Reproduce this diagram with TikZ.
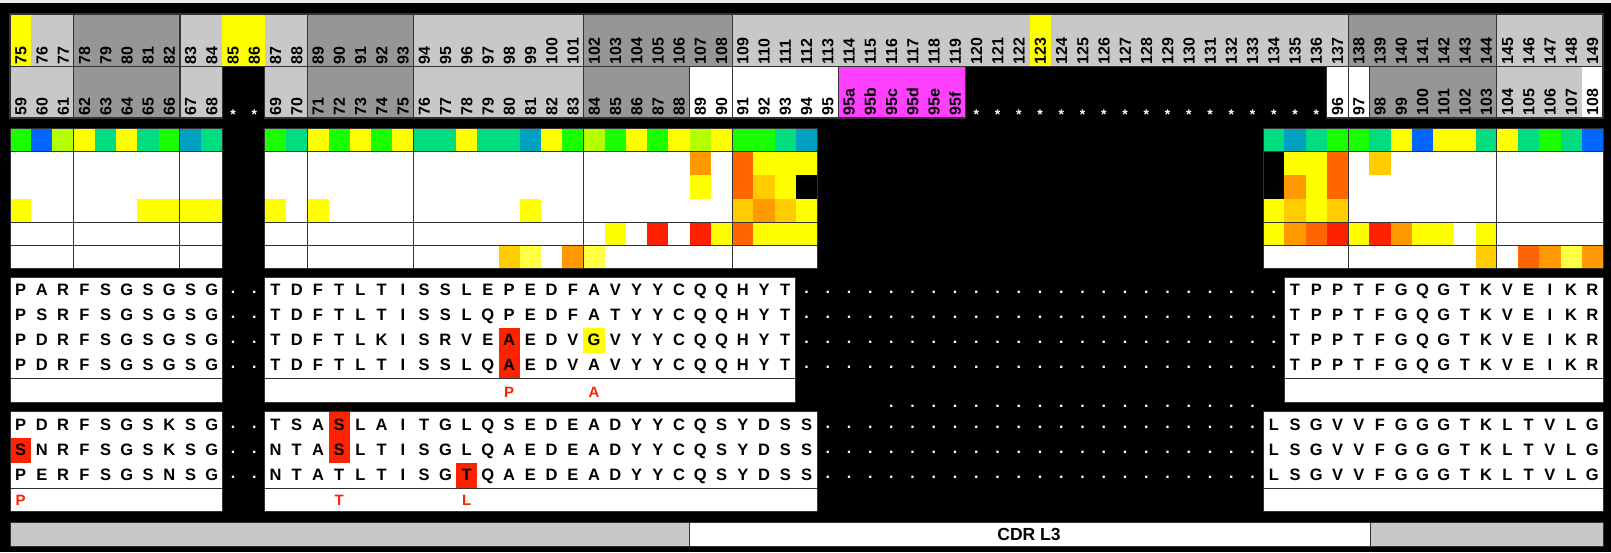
\documentclass[tikz,border=0pt]{standalone}
\usepackage{fontspec}
\setmainfont{Liberation Sans}
\definecolor{lg}{RGB}{200,200,200}
\definecolor{dg}{RGB}{150,150,150}
\definecolor{mag}{RGB}{255,64,255}
\definecolor{cG}{RGB}{26,255,0}
\definecolor{cT}{RGB}{0,221,128}
\definecolor{cB}{RGB}{0,102,255}
\definecolor{cC}{RGB}{0,160,192}
\definecolor{cL}{RGB}{179,255,0}
\definecolor{cY}{RGB}{255,255,0}
\definecolor{hR}{RGB}{255,34,0}
\definecolor{hO}{RGB}{255,102,0}
\definecolor{hN}{RGB}{255,153,0}
\definecolor{hA}{RGB}{255,204,0}
\definecolor{hP}{RGB}{255,255,68}
\definecolor{ln}{RGB}{50,50,50}
\newcommand\colx[1]{(10+21.24*((#1)-75))}
\newcommand\cellfill[4]{\fill[#4] ({\colx{#1}},#2) rectangle ({\colx{#1}+21.24},#3);}
\newcommand\grpbox[5]{\path[#5] ({\colx{#1}},#3) rectangle ({\colx{#2}+21.24},#4);}
\newcommand\seqrow[4]{\foreach \ch [count=\idx from 0] in {#3} {\node[seqst,name=#4-\idx] at ({\colx{#1}+21.24*\idx+10.62},{#2+5.9}) {\ch};}}
\newcommand\dotrow[4]{\foreach \c in {#1,...,#2} {\node[dotst,name=#4-\c] at ({\colx{\c}+10.62},{#3+2.7}) {.};}}
\begin{document}
\begin{tikzpicture}[x=1pt,y=-1pt,
  num/.style={rotate=90,anchor=base west,inner sep=0pt,font=\fontsize{16}{16}\selectfont\bfseries},
  ast/.style={anchor=base,inner sep=0pt,text=white,font=\fontsize{14}{14}\selectfont\bfseries},
  seqst/.style={anchor=base,inner sep=0pt,font=\fontsize{16.5}{16.5}\selectfont\bfseries},
  dotst/.style={anchor=center,inner sep=0pt,text=white,font=\fontsize{16}{16}\selectfont\bfseries},
  ann/.style={anchor=base,inner sep=0pt,text=hR,font=\fontsize{15}{15}\selectfont\bfseries},
  bord/.style={draw=ln,line width=1.2pt},
  thin/.style={draw=ln,line width=0.9pt}]
\useasboundingbox (0,0) rectangle (1611,552);
\fill[black] (0,0) rectangle (1611,552);
\fill[gray!15] (0,0) rectangle (1611,3);
% ---------- row 1 (positions 75-149)
\foreach \a/\b/\k in {75/77/lg,78/82/dg,83/88/lg,89/93/dg,94/101/lg,102/108/dg,109/137/lg,138/144/dg,145/149/lg}
  {\grpbox{\a}{\b}{14}{66.5}{fill=\k}}
\foreach \c in {75,85,86,123} {\cellfill{\c}{14}{66.5}{cY}}
\foreach \a/\b in {75/77,78/82,83/88,89/93,94/101,102/108,109/137,138/144,145/149}
  {\grpbox{\a}{\b}{14}{66.5}{bord}}
% ---------- row 2
\foreach \a/\b/\k in {75/77/lg,78/82/dg,83/84/lg,87/88/lg,89/93/dg,94/101/lg,102/106/dg,107/108/white,109/113/white,114/119/mag,137/137/white,138/138/white,139/144/dg,145/149/lg}
  {\grpbox{\a}{\b}{66.5}{118}{fill=\k}}
\cellfill{149}{66.5}{118}{white}
\foreach \a/\b in {75/77,78/82,83/84,87/88,89/93,94/101,102/106,107/108,109/113,114/119,137/137,138/138,139/144,145/149}
  {\grpbox{\a}{\b}{66.5}{118}{bord}}
% ---------- colour strip
\foreach \c/\k in {75/cG,76/cB,77/cL,78/cY,79/cT,80/cY,81/cT,82/cG,83/cC,84/cT,
  87/cG,88/cT,89/cY,90/cG,91/cY,92/cG,93/cY,94/cT,95/cT,96/cY,97/cT,98/cT,99/cC,100/cY,101/cG,
  102/cL,103/cG,104/cY,105/cG,106/cY,107/cL,108/cY,109/cG,110/cG,111/cT,112/cC,
  134/cT,135/cC,136/cT,137/cG,138/cG,139/cT,140/cY,141/cB,142/cY,143/cY,144/cT,
  145/cY,146/cT,147/cG,148/cT,149/cB}
  {\cellfill{\c}{128}{151}{\k}}
% ---------- heat rows: white backgrounds
\foreach \a/\b in {75/84,87/112,134/149} {\grpbox{\a}{\b}{151}{268}{fill=white}}
% sub-row 1
\foreach \c/\k in {107/hN,109/hO,110/cY,111/cY,112/cY,134/black,135/cY,136/cY,137/hO,139/hA}
  {\cellfill{\c}{151}{175}{\k}}
% sub-row 2
\foreach \c/\k in {107/cY,109/hO,110/hA,111/cY,112/black,134/black,135/hN,136/cY,137/hO}
  {\cellfill{\c}{175}{198.5}{\k}}
% sub-row 3
\foreach \c/\k in {75/cY,81/cY,82/cY,83/cY,84/cY,87/cY,89/cY,99/cY,109/hA,110/hN,111/hA,112/cY,134/cY,135/hA,136/cY,137/hA}
  {\cellfill{\c}{198.5}{222}{\k}}
% row 4
\foreach \c/\k in {103/cY,105/hR,107/hR,108/cY,109/hO,110/cY,111/cY,112/cY,134/cY,135/hN,136/hO,137/hR,138/cY,139/hR,140/hN,141/cY,142/cY,144/cY}
  {\cellfill{\c}{222}{245}{\k}}
% row 5
\foreach \c/\k in {98/hA,99/hP,101/hN,102/hP,144/hA,146/hO,147/hN,148/hP,149/hN}
  {\cellfill{\c}{245}{268}{\k}}
% heat + strip grid
\foreach \a/\b in {75/77,78/82,83/84,87/88,89/93,94/101,102/108,109/112,134/137,138/144,145/149}
  {\grpbox{\a}{\b}{128}{151}{thin}
   \grpbox{\a}{\b}{151}{222}{thin}
   \grpbox{\a}{\b}{222}{245}{thin}
   \grpbox{\a}{\b}{245}{268}{thin}}
% ---------- sequence block 1
\foreach \a/\b in {75/84,87/111,135/149} {\grpbox{\a}{\b}{277}{402}{fill=white}}
\fill[hR] ({\colx{98}},327.5) rectangle ({\colx{98}+21.24},378);
\fill[cY] ({\colx{102}},328) rectangle ({\colx{102}+21.24},352.5);
\foreach \a/\b in {75/84,87/111,135/149} {\grpbox{\a}{\b}{277}{402}{thin}
  \draw[thin] ({\colx{\a}},378) -- ({\colx{\b}+21.24},378);}
\seqrow{75}{290}{P,A,R,F,S,G,S,G,S,G}{s1a}
\seqrow{75}{315}{P,S,R,F,S,G,S,G,S,G}{s2a}
\seqrow{75}{340}{P,D,R,F,S,G,S,G,S,G}{s3a}
\seqrow{75}{365}{P,D,R,F,S,G,S,G,S,G}{s4a}
\seqrow{87}{290}{T,D,F,T,L,T,I,S,S,L,E,P,E,D,F,A,V,Y,Y,C,Q,Q,H,Y,T}{s1b}
\seqrow{87}{315}{T,D,F,T,L,T,I,S,S,L,Q,P,E,D,F,A,T,Y,Y,C,Q,Q,H,Y,T}{s2b}
\seqrow{87}{340}{T,D,F,T,L,K,I,S,R,V,E,A,E,D,V,G,V,Y,Y,C,Q,Q,H,Y,T}{s3b}
\seqrow{87}{365}{T,D,F,T,L,T,I,S,S,L,Q,A,E,D,V,A,V,Y,Y,C,Q,Q,H,Y,T}{s4b}
\foreach \y/\t in {290/s1c,315/s2c,340/s3c,365/s4c}
  {\seqrow{135}{\y}{T,P,P,T,F,G,Q,G,T,K,V,E,I,K,R}{\t}}
\foreach \y/\t in {290/d1,315/d2,340/d3,365/d4}
  {\dotrow{85}{86}{\y}{\t a}\dotrow{112}{134}{\y}{\t b}}
\node[ann,name=an1] at ({\colx{98}+10.62},397) {P};
\node[ann,name=an2] at ({\colx{102}+10.62},397) {A};
\dotrow{116}{133}{404}{dx}
% ---------- sequence block 2
\foreach \a/\b in {75/84,87/112,134/149} {\grpbox{\a}{\b}{411.5}{511}{fill=white}}
\fill[hR] ({\colx{75}},437.5) rectangle ({\colx{75}+21.24},462.5);
\fill[hR] ({\colx{90}},411.5) rectangle ({\colx{90}+21.24},462.5);
\fill[hR] ({\colx{96}},462.5) rectangle ({\colx{96}+21.24},488);
\foreach \a/\b in {75/84,87/112,134/149} {\grpbox{\a}{\b}{411.5}{511}{thin}
  \draw[thin] ({\colx{\a}},488) -- ({\colx{\b}+21.24},488);}
\seqrow{75}{425}{P,D,R,F,S,G,S,K,S,G}{t1a}
\seqrow{75}{450}{S,N,R,F,S,G,S,K,S,G}{t2a}
\seqrow{75}{475}{P,E,R,F,S,G,S,N,S,G}{t3a}
\seqrow{87}{425}{T,S,A,S,L,A,I,T,G,L,Q,S,E,D,E,A,D,Y,Y,C,Q,S,Y,D,S,S}{t1b}
\seqrow{87}{450}{N,T,A,S,L,T,I,S,G,L,Q,A,E,D,E,A,D,Y,Y,C,Q,S,Y,D,S,S}{t2b}
\seqrow{87}{475}{N,T,A,T,L,T,I,S,G,T,Q,A,E,D,E,A,D,Y,Y,C,Q,S,Y,D,S,S}{t3b}
\foreach \y/\t in {425/t1c,450/t2c,475/t3c}
  {\seqrow{134}{\y}{L,S,G,V,V,F,G,G,G,T,K,L,T,V,L,G}{\t}}
\foreach \y/\t in {425/e1,450/e2,475/e3}
  {\dotrow{85}{86}{\y}{\t a}\dotrow{113}{133}{\y}{\t b}}
\node[ann,name=an3] at ({\colx{75}+10.62},505.5) {P};
\node[ann,name=an4] at ({\colx{90}+10.62},505.5) {T};
\node[ann,name=an5] at ({\colx{96}+10.62},505.5) {L};
% ---------- numbers row 1
\foreach \c in {75,...,149} {\node[num,name=a\c] at ({\colx{\c}+16.3},64.5) {\c};}
% ---------- numbers row 2
\foreach \c in {75,...,84} {\pgfmathtruncatemacro\nn{\c-16}\node[num,name=b\c] at ({\colx{\c}+16.3},115.5) {\nn};}
\foreach \c in {87,...,113} {\pgfmathtruncatemacro\nn{\c-18}\node[num,name=b\c] at ({\colx{\c}+16.3},115.5) {\nn};}
\foreach \c/\t in {114/95a,115/95b,116/95c,117/95d,118/95e,119/95f} {\node[num,name=b\c] at ({\colx{\c}+16.3},115.5) {\t};}
\foreach \c in {137,...,149} {\pgfmathtruncatemacro\nn{\c-41}\node[num,name=b\c] at ({\colx{\c}+16.3},115.5) {\nn};}
\foreach \c in {85,86,120,121,...,136} {\node[ast,name=st\c] at ({\colx{\c}+10.62},119.5) {*};}
% ---------- bottom bar
\fill[lg] (10,522) rectangle (689.5,546);
\fill[white] (689.5,522) rectangle (1370,546);
\fill[lg] (1370,522) rectangle (1603,546);
\draw[thin] (10,522) rectangle (1603,546);
\draw[thin] (689.5,522) -- (689.5,546) (1370,522) -- (1370,546);
\node[name=cdr,inner sep=0pt,anchor=base,font=\fontsize{17.5}{17.5}\selectfont\bfseries] at (1029,540.5) {CDR L3};
\end{tikzpicture}
\end{document}
